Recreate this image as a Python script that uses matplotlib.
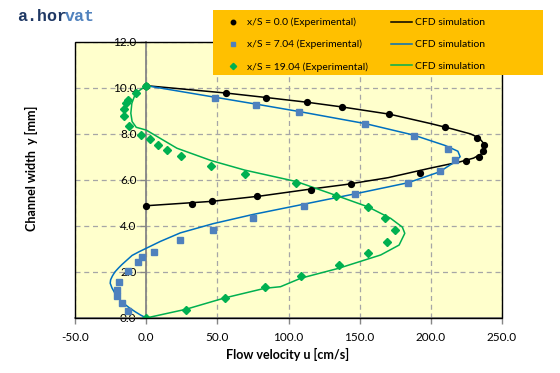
import numpy as np
import matplotlib.pyplot as plt
from matplotlib.patches import Rectangle

plt.rcParams['font.family'] = ['Lato', 'DejaVu Sans']

# experimental points, u [cm/s] and y [mm]
u_exp0 = [0.0, 32.2, 46.2, 78.2, 115.5, 143.9, 192.5, 224.9, 233.6, 236.6, 237.6, 232.6, 210.0, 170.7, 137.3, 112.7, 84.5, 56.3, 0.0]
y_exp0 = [4.88, 4.97, 5.07, 5.29, 5.58, 5.81, 6.29, 6.81, 7.01, 7.28, 7.51, 7.83, 8.29, 8.87, 9.19, 9.39, 9.58, 9.79, 10.09]

u_exp1 = [-12.5, -16.9, -20.2, -20.2, -18.8, -12.9, -5.6, -3.0, 5.4, 23.9, 47.0, 74.9, 110.8, 147.0, 184.0, 206.6, 216.9, 212.2, 188.0, 153.8, 107.3, 77.2, 48.1]
y_exp1 = [0.30, 0.64, 0.94, 1.22, 1.57, 2.06, 2.43, 2.65, 2.86, 3.38, 3.81, 4.36, 4.87, 5.38, 5.86, 6.39, 6.88, 7.33, 7.90, 8.43, 8.97, 9.26, 9.57]

u_exp2 = [0.0, 27.7, 55.2, 83.3, 108.7, 135.2, 155.9, 169.2, 174.9, 168.1, 155.9, 133.3, 105.6, 69.2, 45.8, 24.6, 14.3, 8.2, 2.8, -4.0, -12.2, -15.3, -15.3, -14.3, -12.7, -7.5, 0.0]
y_exp2 = [0.0, 0.36, 0.86, 1.36, 1.81, 2.30, 2.81, 3.32, 3.81, 4.35, 4.81, 5.30, 5.86, 6.26, 6.61, 7.04, 7.30, 7.52, 7.77, 7.96, 8.33, 8.77, 9.10, 9.36, 9.48, 9.77, 10.09]

# CFD curves
u_cfd0 = [0, 46, 80, 115, 140, 170, 200, 220, 230, 236, 238, 237, 234, 228, 215, 200, 171, 137, 113, 85, 56, 0]
y_cfd0 = [4.88, 5.07, 5.30, 5.60, 5.80, 6.10, 6.52, 6.78, 6.95, 7.15, 7.40, 7.60, 7.82, 8.00, 8.22, 8.45, 8.86, 9.18, 9.38, 9.58, 9.78, 10.1]

u_cfd1 = [0, -4.0, -7.7, -12.0, -16.0, -19.5, -22.0, -24.0, -25.3, -25.0, -23.8, -22.0, -19.5, -17.1, -13.5, -9.9, -5.0, 0, 10, 24, 47, 75, 111, 147, 184, 206, 216, 220.6, 219, 210, 188, 154, 107, 77, 48, 0]
y_cfd1 = [0, 0.13, 0.27, 0.45, 0.64, 0.86, 1.08, 1.30, 1.51, 1.66, 1.82, 2.0, 2.17, 2.32, 2.52, 2.72, 2.88, 3.03, 3.33, 3.70, 4.10, 4.50, 4.95, 5.40, 5.88, 6.35, 6.75, 7.01, 7.25, 7.50, 7.95, 8.45, 8.98, 9.30, 9.60, 10.1]

u_cfd2 = [0, 28, 55, 83.3, 94.4, 108.7, 135.2, 164.8, 177.7, 181.7, 180, 171.8, 155.9, 133.3, 105.6, 69.2, 45.8, 21.6, 0, -7.0, -9.9, -10.8, -10.1, -7.5, 0]
y_cfd2 = [0, 0.38, 0.87, 1.29, 1.36, 1.73, 2.16, 2.74, 3.17, 3.68, 3.95, 4.33, 4.83, 5.33, 5.93, 6.43, 6.84, 7.38, 8.17, 8.29, 8.54, 8.90, 9.33, 9.77, 10.1]

labels_exp = ['x/S = 0.0 (Experimental)', 'x/S = 7.04 (Experimental)', 'x/S = 19.04 (Experimental)']
label_cfd = 'CFD simulation'

fig = plt.figure(figsize=(5.6, 3.73), dpi=100)
ax = fig.add_axes([0.134, 0.1475, 0.7624, 0.74])
ax.set_facecolor('#FFFFCC')

l0, = ax.plot(u_cfd0, y_cfd0, color='black', lw=1.1, zorder=3)
l1, = ax.plot(u_cfd1, y_cfd1, color='#0070C0', lw=1.1, zorder=3)
l2, = ax.plot(u_cfd2, y_cfd2, color='#00B050', lw=1.1, zorder=3)
m0, = ax.plot(u_exp0, y_exp0, 'o', color='black', ms=4.2, ls='none', zorder=4)
m1, = ax.plot(u_exp1, y_exp1, 's', color='#4F81BD', ms=4.5, ls='none', zorder=4)
m2, = ax.plot(u_exp2, y_exp2, 'D', color='#00B050', ms=4.2, ls='none', zorder=5)

ax.set_xlim(-50, 250)
ax.set_ylim(0, 12)
ax.set_xticks(np.arange(-50, 251, 50))
ax.set_yticks(np.arange(0, 12.1, 2))
ax.xaxis.set_major_formatter(plt.FormatStrFormatter('%.1f'))
ax.yaxis.set_major_formatter(plt.FormatStrFormatter('%.1f'))
ax.grid(True, color='#A6A6A6', ls=(0, (4, 3)), lw=0.9, zorder=1)
ax.set_axisbelow(True)

ax.spines['left'].set_position(('data', 0))
ax.spines['left'].set_color('#868686')
ax.spines['left'].set_linewidth(1.3)
ax.spines['bottom'].set_color('#868686')
ax.spines['bottom'].set_linewidth(1.3)
ax.spines['top'].set_visible(False)
ax.spines['right'].set_visible(False)
ax.add_patch(Rectangle((0, 0), 1, 1, transform=ax.transAxes, fill=False,
                       ec='black', lw=1.0, zorder=6, clip_on=False))
ax.tick_params(axis='both', colors='#868686', labelcolor='black', labelsize=8.5,
               length=4, width=1)
ax.tick_params(axis='x', pad=6)
ax.tick_params(axis='y', pad=3)

fig.text(0.514, 0.05, 'Flow velocity u [cm/s]', ha='center', va='center',
         fontsize=9, fontweight='bold')
fig.text(0.057, 0.55, 'Channel width  y [mm]', ha='center', va='center',
         rotation=90, fontsize=9, fontweight='bold')

fig.text(0.03, 0.955, 'a.hor', family='Liberation Mono', fontweight='bold',
         fontsize=12, color='#1F3864', va='center')
fig.text(0.03 + 5 * 0.0173, 0.955, 'vat', family='Liberation Mono', fontweight='bold',
         fontsize=12, color='#4F81BD', va='center')

# orange legend box, overlapping the top of the plot
fig.patches.append(Rectangle((0.3804, 0.799), 0.589, 0.174, transform=fig.transFigure,
                             facecolor='#FFC000', edgecolor='none', zorder=10))
leg = fig.legend([m0, m1, m2, l0, l1, l2], labels_exp + [label_cfd] * 3,
                 ncol=2, loc='upper left', bbox_to_anchor=(0.398, 0.952),
                 borderaxespad=0, borderpad=0, fontsize=7.5, frameon=False,
                 handlelength=2.0, handletextpad=0.3,
                 labelspacing=1.2, columnspacing=2.2)
leg.set_zorder(11)
for h in leg.legend_handles[:3]:
    h.set_markersize(3.2)

fig.savefig('out.png', dpi=100)
